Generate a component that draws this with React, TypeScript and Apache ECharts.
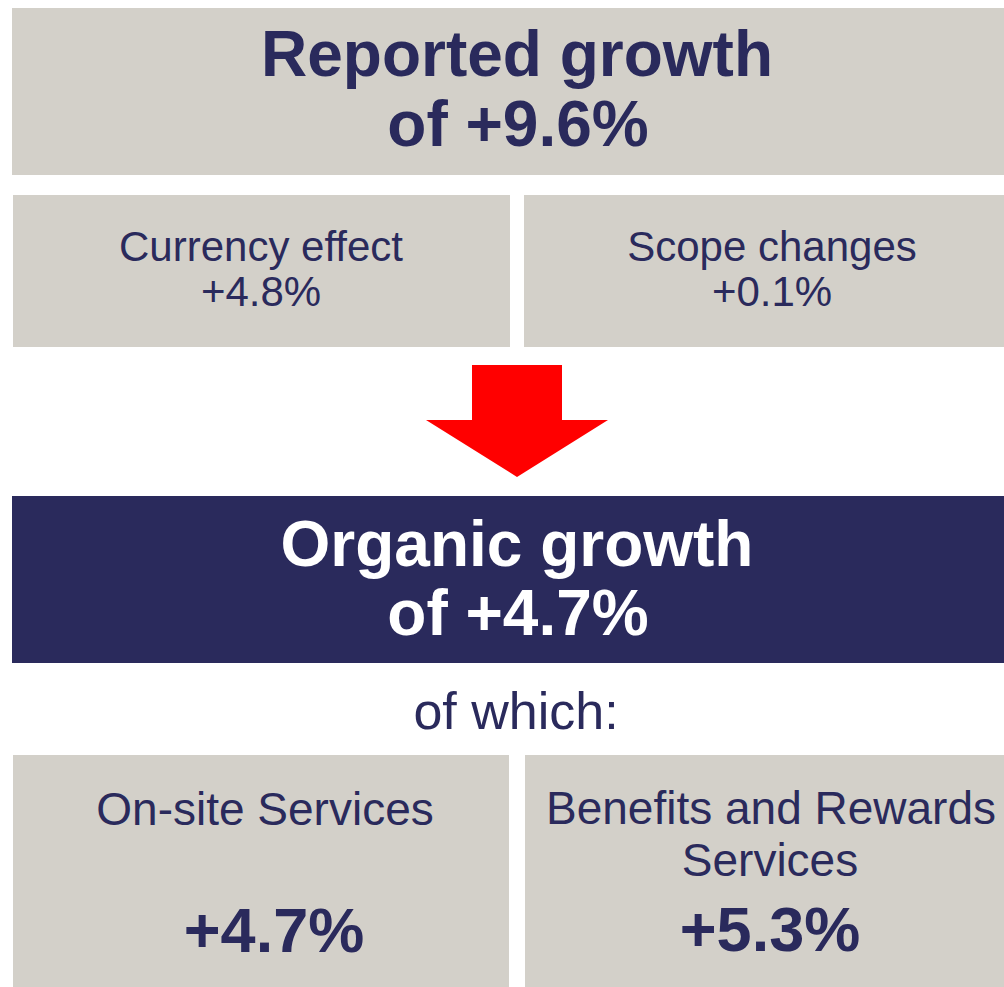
import React, { useEffect, useRef } from "react";
import * as echarts from "echarts";

// ---- Data ----
const headline = ["Reported growth", "Organic growth"];
const headlineValues = [9.6, 4.7];
const effectLabels = ["Currency effect", "Scope changes"];
const effectValues = [4.8, 0.1];
const segmentLabels = [["On-site Services"], ["Benefits and Rewards", "Services"]];
const segmentValues = [4.7, 5.3];
const connectorLabel = "of which:";

const NAVY = "#2a2a5c";
const GREY = "#d3d0c9";
const RED = "#ff0000";
const FONT = "'Liberation Sans', Arial, Helvetica, sans-serif";

const pct = (v: number) => `+${v.toFixed(1)}%`;

function txt(text: string, x: number, baseline: number, size: number, bold: boolean, color: string) {
  return {
    type: "text",
    x,
    y: baseline - 0.36 * size,
    silent: true,
    style: {
      text,
      fill: color,
      font: `${bold ? "bold " : ""}${size}px ${FONT}`,
      align: "center",
      verticalAlign: "middle",
    },
  };
}

export default function App() {
  const ref = useRef<HTMLDivElement>(null);
  useEffect(() => {
    if (!ref.current) return;
    const chart = echarts.init(ref.current, null, { renderer: "svg" });
    const rect = (x: number, y: number, w: number, h: number, fill: string) => ({
      type: "rect",
      shape: { x, y, width: w, height: h },
      style: { fill },
      silent: true,
    });
    const elements: any[] = [
      rect(12, 8, 992, 167, GREY),
      rect(13, 195, 497, 152, GREY),
      rect(524, 195, 480, 152, GREY),
      {
        type: "polygon",
        shape: {
          points: [
            [472, 365],
            [562, 365],
            [562, 420],
            [608, 420],
            [517, 477],
            [426, 420],
            [472, 420],
          ],
        },
        style: { fill: RED },
        silent: true,
      },
      rect(12, 496, 992, 167, NAVY),
      rect(13, 755, 496, 232, GREY),
      rect(525, 755, 479, 232, GREY),
      // headline top
      txt(headline[0], 517, 77, 64, true, NAVY),
      txt(`of ${pct(headlineValues[0])}`, 518, 147, 64, true, NAVY),
      // effects
      txt(effectLabels[0], 261, 262, 42, false, NAVY),
      txt(pct(effectValues[0]), 261, 307, 42, false, NAVY),
      txt(effectLabels[1], 772, 262, 42, false, NAVY),
      txt(pct(effectValues[1]), 772, 307, 42, false, NAVY),
      // organic
      txt(headline[1], 517, 567, 64, true, "#ffffff"),
      txt(`of ${pct(headlineValues[1])}`, 518, 636, 64, true, "#ffffff"),
      // connector
      txt(connectorLabel, 516, 730, 52, false, NAVY),
      // segments
      txt(segmentLabels[0][0], 265, 826, 46, false, NAVY),
      txt(pct(segmentValues[0]), 274, 953, 63, true, NAVY),
      txt(segmentLabels[1][0], 771, 825, 46, false, NAVY),
      txt(segmentLabels[1][1], 770, 877, 46, false, NAVY),
      txt(pct(segmentValues[1]), 770, 952, 63, true, NAVY),
    ];
    chart.setOption({
      animation: false,
      backgroundColor: "#ffffff",
      graphic: { elements },
    });
    return () => chart.dispose();
  }, []);
  return (
    <div
      ref={ref}
      style={{ position: "fixed", left: 0, top: 0, width: 1004, height: 987, background: "#fff" }}
    />
  );
}
